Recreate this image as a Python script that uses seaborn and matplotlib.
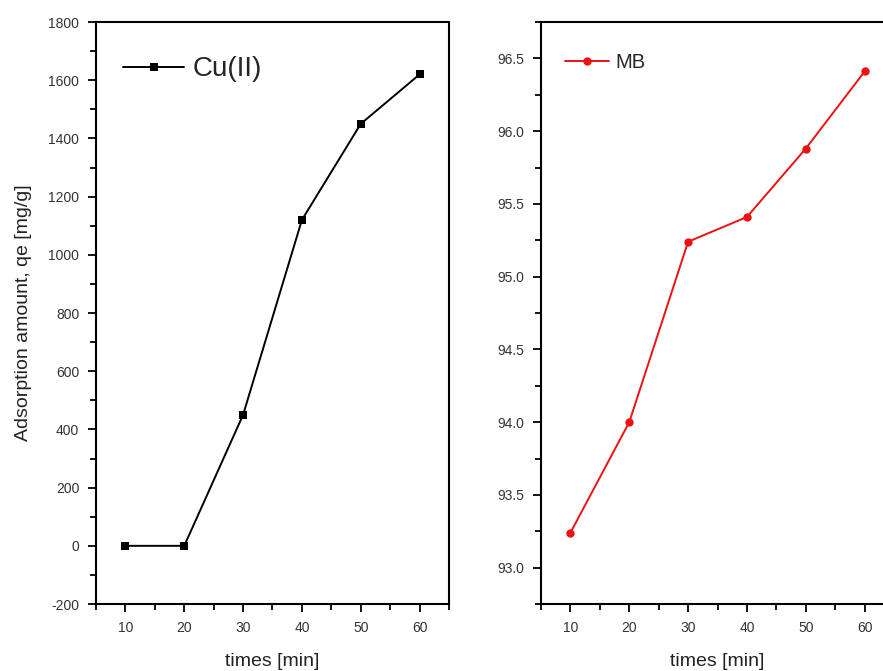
import pandas as pd
import matplotlib.pyplot as plt
import seaborn as sns
from matplotlib.ticker import MultipleLocator

# data
times = [10, 20, 30, 40, 50, 60]
cu_qe = [0, 0, 450, 1120, 1450, 1620]
mb_qe = [93.24, 94.0, 95.24, 95.41, 95.88, 96.41]

df_cu = pd.DataFrame({'time': times, 'qe': cu_qe})
df_mb = pd.DataFrame({'time': times, 'qe': mb_qe})

sns.set_style('ticks')
plt.rcParams['font.family'] = ['Liberation Sans', 'DejaVu Sans']
plt.rcParams['axes.unicode_minus'] = False

fig = plt.figure(figsize=(8.83, 6.71), dpi=100)
ax1 = fig.add_axes([0.1087, 0.0998, 0.3998, 0.8674])
ax2 = fig.add_axes([0.6127, 0.0998, 0.3998, 0.8674])

# left panel: Cu(II)
sns.lineplot(data=df_cu, x='time', y='qe', ax=ax1, color='black', marker='s',
             markersize=6, markeredgewidth=0, linewidth=1.4, label='Cu(II)')
ax1.set_xlim(5, 65)
ax1.set_ylim(-200, 1800)
ax1.yaxis.set_major_locator(MultipleLocator(200))
ax1.yaxis.set_minor_locator(MultipleLocator(100))
ax1.set_ylabel('Adsorption amount, qe [mg/g]', fontsize=14, color='#222222', labelpad=12)
ax1.legend(loc='upper left', frameon=False, fontsize=20, handlelength=2.2,
           handletextpad=0.3, borderaxespad=0.0, bbox_to_anchor=(0.045, 0.96))

# right panel: MB
sns.lineplot(data=df_mb, x='time', y='qe', ax=ax2, color='#ee1111', marker='o',
             markersize=6, markeredgewidth=0, linewidth=1.4, label='MB')
ax2.set_xlim(5, 65)
ax2.set_ylim(92.75, 96.75)
ax2.yaxis.set_major_locator(MultipleLocator(0.5))
ax2.yaxis.set_minor_locator(MultipleLocator(0.25))
ax2.yaxis.set_major_formatter(plt.FormatStrFormatter('%.1f'))
ax2.set_ylabel('')
ax2.legend(loc='upper left', frameon=False, fontsize=14.5, handlelength=2.2,
           handletextpad=0.3, borderaxespad=0.0, bbox_to_anchor=(0.045, 0.96))

for ax in (ax1, ax2):
    ax.xaxis.set_major_locator(MultipleLocator(10))
    ax.xaxis.set_minor_locator(MultipleLocator(5))
    ax.set_xlabel('times [min]', fontsize=14, color='#222222', labelpad=13)
    for s in ax.spines.values():
        s.set_visible(True)
        s.set_linewidth(1.5)
        s.set_color('black')
    ax.tick_params(which='major', direction='out', length=6, width=1.3,
                   labelsize=10, labelcolor='#333333', color='black', pad=6)
    ax.tick_params(which='minor', direction='out', length=4, width=1.3, color='black')
    ax.tick_params(top=False, right=False, which='both')

fig.savefig('out.png', dpi=100)
